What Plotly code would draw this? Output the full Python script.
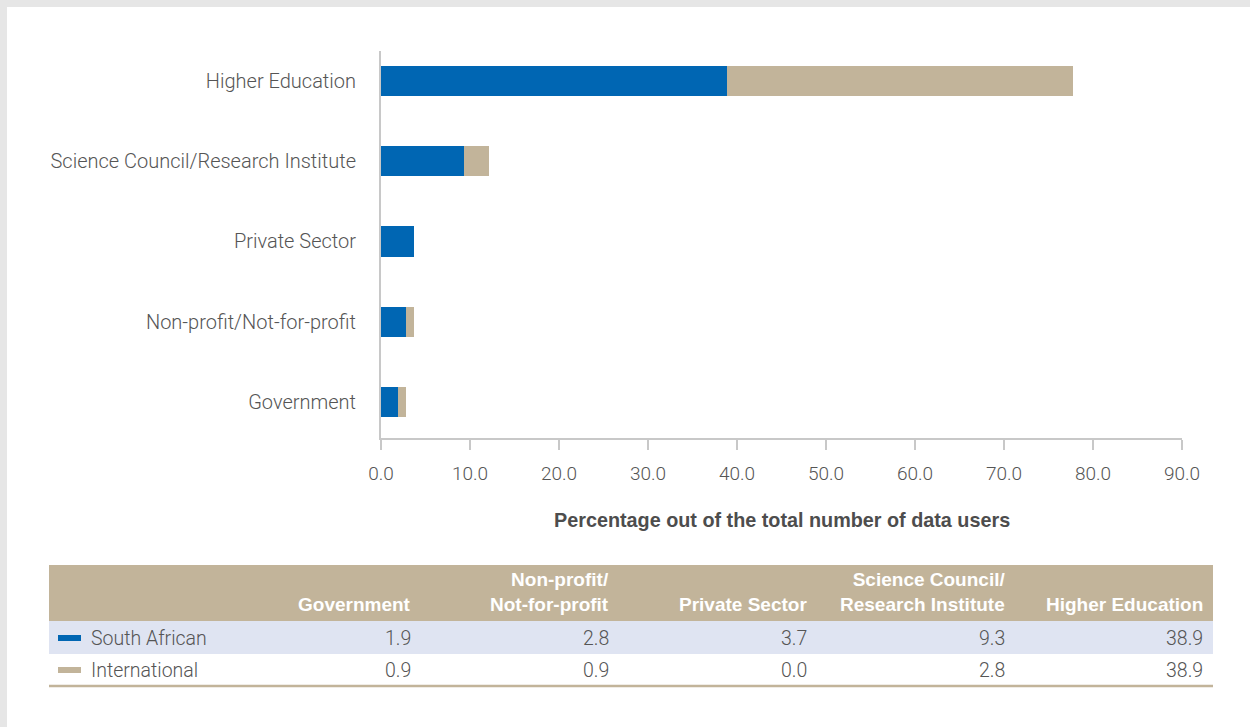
import plotly.graph_objects as go

# Sectors, bottom to top on the chart, left to right in the table
sectors = [
    "Government",
    "Non-profit/Not-for-profit",
    "Private Sector",
    "Science Council/Research Institute",
    "Higher Education",
]
table_headers = [
    "Government",
    "Non-profit/<br>Not-for-profit",
    "Private Sector",
    "Science Council/<br>Research Institute",
    "Higher Education",
]
south_african = [1.9, 2.8, 3.7, 9.3, 38.9]
international = [0.9, 0.9, 0.0, 2.8, 38.9]
x_ticks = [0, 10, 20, 30, 40, 50, 60, 70, 80, 90]

BLUE = "#0066b3"
TAN = "#c2b49a"
ROW_FILL = "#dfe4f2"
GREY_TEXT = "#555555"
AXIS_GREY = "#c8c8c8"
FONT = "Roboto"
BOLD_FONT = "Liberation Sans"

W, H = 1250, 727


def px(x):
    return x / W


def py(y):
    return 1 - y / H


fig = go.Figure()
fig.add_trace(go.Bar(y=sectors, x=south_african, orientation="h", name="South African",
                     marker=dict(color=BLUE, line=dict(width=0)), width=0.374))
fig.add_trace(go.Bar(y=sectors, x=international, orientation="h", name="International",
                     marker=dict(color=TAN, line=dict(width=0)), width=0.374))

shapes = []
annotations = []

# page background panel
shapes.append(dict(type="rect", xref="paper", yref="paper", layer="below",
                   x0=px(7), x1=1, y0=0, y1=py(7),
                   fillcolor="white", line=dict(width=0)))

# axis title
annotations.append(dict(xref="paper", yref="paper", x=px(781.5), y=py(520),
                        text="<b>Percentage out of the total number of data users</b>",
                        showarrow=False, xanchor="center", yanchor="middle",
                        font=dict(family=BOLD_FONT, size=19.8, color="#4d4d4d")))

# data table
tbl_left, tbl_right = 49, 1213
hdr_top, hdr_bot = 565, 621
row1_bot, row2_bot = 654, 685
col_right = [411, 609, 807, 1005, 1203]

shapes.append(dict(type="rect", xref="paper", yref="paper",
                   x0=px(tbl_left), x1=px(tbl_right), y0=py(hdr_bot), y1=py(hdr_top),
                   fillcolor=TAN, line=dict(width=0)))
shapes.append(dict(type="rect", xref="paper", yref="paper",
                   x0=px(tbl_left), x1=px(tbl_right), y0=py(row1_bot), y1=py(hdr_bot),
                   fillcolor=ROW_FILL, line=dict(width=0)))
shapes.append(dict(type="line", xref="paper", yref="paper",
                   x0=px(tbl_left), x1=px(tbl_right), y0=py(row2_bot + 1), y1=py(row2_bot + 1),
                   line=dict(color=TAN, width=2.5)))

for hdr, xr in zip(table_headers, col_right):
    annotations.append(dict(xref="paper", yref="paper", x=px(xr + 2), y=py(617),
                            text=f"<b>{hdr}</b>", showarrow=False,
                            xanchor="right", yanchor="bottom", align="right",
                            font=dict(family=BOLD_FONT, size=19, color="white")))

rows = [("South African", south_african, BLUE, 638), ("International", international, TAN, 670)]
for label, vals, col, yc in rows:
    shapes.append(dict(type="rect", xref="paper", yref="paper",
                       x0=px(58), x1=px(81), y0=py(yc + 3), y1=py(yc - 3),
                       fillcolor=col, line=dict(width=0)))
    annotations.append(dict(xref="paper", yref="paper", x=px(89), y=py(yc),
                            text=label, showarrow=False, xanchor="left", yanchor="middle",
                            font=dict(family=FONT, size=19.5, color=GREY_TEXT, weight=300)))
    for v, xr in zip(vals, col_right):
        annotations.append(dict(xref="paper", yref="paper", x=px(xr + 2), y=py(yc),
                                text=f"{v:.1f}", showarrow=False,
                                xanchor="right", yanchor="middle",
                                font=dict(family=FONT, size=19.5, color=GREY_TEXT, weight=300)))

fig.update_layout(
    width=W, height=H,
    margin=dict(l=0, r=0, t=0, b=0, autoexpand=False),
    paper_bgcolor="#e6e6e6",
    plot_bgcolor="white",
    barmode="stack",
    showlegend=False,
    font=dict(family=FONT, size=19, color=GREY_TEXT),
    xaxis=dict(domain=[px(381), px(1182)], anchor="y", automargin=False,
               range=[0, 90], tickvals=x_ticks,
               ticktext=[f"{t:.1f}" for t in x_ticks],
               showgrid=False, zeroline=False,
               showline=True, linecolor=AXIS_GREY, linewidth=2,
               ticks="outside", ticklen=10, tickwidth=2, tickcolor=AXIS_GREY,
               ticklabelstandoff=7,
               tickfont=dict(family=FONT, size=19, color=GREY_TEXT, weight=300)),
    yaxis=dict(domain=[py(438), py(51)], anchor="x", automargin=False,
               range=[-0.449, 4.374], categoryorder="array", categoryarray=sectors,
               showgrid=False, zeroline=False,
               showline=True, linecolor=AXIS_GREY, linewidth=2,
               ticks="", ticklabelstandoff=19,
               tickfont=dict(family=FONT, size=20, color=GREY_TEXT, weight=300)),
    shapes=shapes,
    annotations=annotations,
)

fig.write_html("out.html")
